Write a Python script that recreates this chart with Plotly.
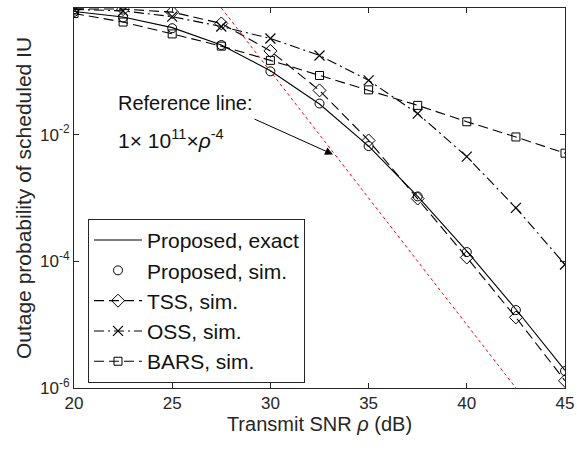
import plotly.graph_objects as go

snr_db = [20, 22.5, 25, 27.5, 30, 32.5, 35, 37.5, 40, 42.5, 45]

proposed_exact = [0.88, 0.72, 0.49, 0.26, 0.102, 0.0305, 0.0066, 0.00106, 1.45e-4, 1.75e-5, 1.9e-6]
proposed_sim = [0.87, 0.71, 0.48, 0.26, 0.10, 0.031, 0.0066, 0.00106, 1.4e-4, 1.7e-5, 1.85e-6]
tss_sim = [0.97, 0.96, 0.86, 0.57, 0.21, 0.05, 0.0081, 0.00098, 1.15e-4, 1.3e-5, 1.3e-6]
oss_sim = [0.95, 0.9, 0.73, 0.51, 0.33, 0.178, 0.072, 0.0215, 0.0045, 7e-4, 8.9e-5]
bars_sim = [0.82, 0.6, 0.39, 0.25, 0.149, 0.086, 0.051, 0.029, 0.016, 0.0092, 0.0051]

ref_x = [27.5, 30, 32.5, 35, 37.5, 40, 42.5]
ref_y = [1, 1e-1, 1e-2, 1e-3, 1e-4, 1e-5, 1e-6]

ytick_vals = [1e-6, 1e-4, 1e-2, 1]
ytick_text = ["10<sup>-6</sup>", "10<sup>-4</sup>", "10<sup>-2</sup>", "10<sup>0</sup>"]
xtick_vals = [20, 25, 30, 35, 40, 45]

FONT = "Liberation Sans, Arial, Helvetica, sans-serif"
BLK = "black"

fig = go.Figure()

fig.add_trace(go.Scatter(x=ref_x, y=ref_y, mode="lines",
                         line=dict(color="red", width=1, dash="dot"),
                         showlegend=False, hoverinfo="skip"))

fig.add_trace(go.Scatter(x=snr_db, y=proposed_exact, mode="lines",
                         name="Proposed, exact",
                         line=dict(color=BLK, width=1.1)))
fig.add_trace(go.Scatter(x=snr_db, y=proposed_sim, mode="markers",
                         name="Proposed, sim.",
                         marker=dict(symbol="circle-open", size=9, color=BLK,
                                     line=dict(width=1, color=BLK))))
fig.add_trace(go.Scatter(x=snr_db, y=tss_sim, mode="lines+markers",
                         name="TSS, sim.",
                         line=dict(color=BLK, width=1.1, dash="10px,5px"),
                         marker=dict(symbol="diamond-open", size=10, color=BLK,
                                     line=dict(width=1, color=BLK))))
fig.add_trace(go.Scatter(x=snr_db, y=oss_sim, mode="lines+markers",
                         name="OSS, sim.",
                         line=dict(color=BLK, width=1.1, dash="10px,4px,2px,4px"),
                         marker=dict(symbol="x-thin-open", size=10, color=BLK,
                                     line=dict(width=1.2, color=BLK))))
fig.add_trace(go.Scatter(x=snr_db, y=bars_sim, mode="lines+markers",
                         name="BARS, sim.",
                         line=dict(color=BLK, width=1.1, dash="10px,5px"),
                         marker=dict(symbol="square-open", size=8, color=BLK,
                                     line=dict(width=1, color=BLK))))

# annotation text
fig.add_annotation(x=0.086, y=0.749, xref="paper", yref="paper",
                   text="Reference line:", showarrow=False,
                   xanchor="left", yanchor="middle",
                   font=dict(family=FONT, size=20, color="#111"))
fig.add_annotation(x=0.086, y=0.655, xref="paper", yref="paper",
                   text="1× 10<sup>11</sup>×<i>ρ</i><sup>-4</sup>",
                   showarrow=False, xanchor="left", yanchor="middle",
                   font=dict(family=FONT, size=21, color="#111"))
# arrow
fig.add_annotation(x=33.19, y=-2.312, xref="x", yref="y", text="",
                   showarrow=True, ax=-80, ay=-36, arrowhead=2,
                   arrowsize=1.6, arrowwidth=1, arrowcolor=BLK)

axis_common = dict(showline=True, linecolor="#262626", linewidth=1,
                   mirror="ticks", ticks="inside", ticklen=5,
                   tickcolor="#262626", showgrid=False, zeroline=False,
                   automargin=False,
                   tickfont=dict(family=FONT, size=17, color="#262626"))

fig.update_xaxes(range=[20, 45], tickvals=xtick_vals,
                 title=dict(text="Transmit SNR <i>ρ</i> (dB)", standoff=4,
                            font=dict(family=FONT, size=20, color="#262626")),
                 **axis_common)
fig.update_yaxes(type="log", range=[-6, 0], tickvals=ytick_vals, ticktext=ytick_text,
                 title=dict(text="Outage probability of scheduled IU", standoff=2,
                            font=dict(family=FONT, size=21, color="#262626")),
                 **axis_common)

fig.update_layout(
    width=577, height=450,
    margin=dict(l=74, r=12, t=8, b=62),
    plot_bgcolor="white", paper_bgcolor="white",
    font=dict(family=FONT, color="#262626"),
    legend=dict(x=0.0285, y=0.445, xanchor="left", yanchor="top",
                bgcolor="white", bordercolor="#262626", borderwidth=1,
                font=dict(family=FONT, size=21, color="#111"),
                itemwidth=48, tracegroupgap=0),
)

fig.write_html("out.html")
